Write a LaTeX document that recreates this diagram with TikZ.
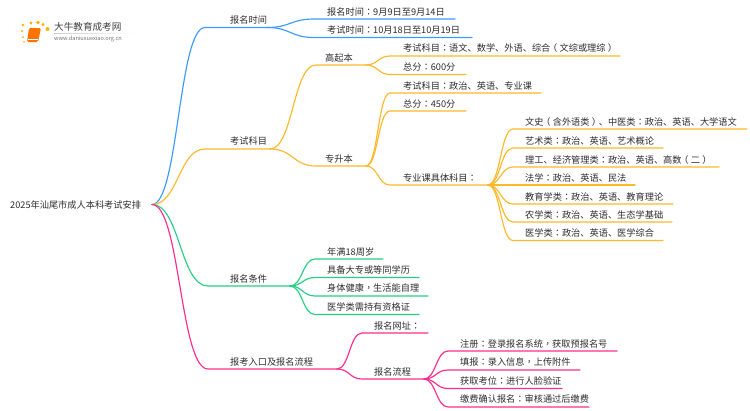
\documentclass[tikz,border=0pt]{standalone}
\usepackage{fontspec}
\setmainfont{Noto Sans CJK SC}
\newfontfamily\tcfont{Noto Sans CJK TC}
\newcommand{\cl}{{\tcfont ：}}
\newcommand{\cm}{{\tcfont ，}}
\newcommand{\lp}{\kern-.25em（\kern.25em}
\newcommand{\rp}{\kern.25em）\kern-.25em}
\usetikzlibrary{calc}
\definecolor{cblue}{HTML}{3D9BFF}
\definecolor{corange}{HTML}{FDB92A}
\definecolor{cgreen}{HTML}{27CF85}
\definecolor{cpink}{HTML}{FF2D8E}
\definecolor{ctext}{HTML}{2E2E2E}
\tikzset{
  lbl/.style={anchor=west,inner sep=0pt,text=ctext,font=\fontsize{9.2}{11}\selectfont},
  edge/.style={line width=1.15pt,line cap=round},
}
% \leaf{name}{x start}{x text}{x end}{y line}{y text}{text}
\newcommand{\leaf}[7]{%
  \coordinate (#1s) at (#2,#5);
  \coordinate (#1e) at (#4,#5);
  \node[lbl] (#1) at (#3,#6) {#7};
}
\newcommand{\conn}[3]{%
  \draw[edge,#1] let \p1=(#2),\p2=(#3s),\n1={0.5*(\x2-\x1)} in
    (#2) .. controls +(\n1,0) and +(-\n1,0) .. (#3s) -- (#3e);
}
\begin{document}
\begin{tikzpicture}[x=1pt,y=-1pt]
\useasboundingbox (0,0) rectangle (750,410);
\fill[white] (0,0) rectangle (750,410);

% logo
\foreach \a/\b/\r in {23/25/1.3,31/23/1.7,38/22.5/1.8,43/24.5/1.7,47.5/29/2,22/31/1.2,23/37/1,24/42/.8}
  \fill[orange!60!yellow] (\a,\b) circle (\r);
\fill[orange!90!red,rounded corners=1.5pt] (29,28) -- (41,28) -- (38,42) -- (27,42) -- cycle;
\draw[white,line width=.5pt] (28.4,39.5) -- (38,39.5);
\shade[left color=black!20,right color=white] (54,33) rectangle (134,33.5);
\node[anchor=west,inner sep=0pt,text=black!75,font=\fontsize{9.6}{11}\selectfont] (logot) at (54,27) {大牛教育成考网};
\node[anchor=west,inner sep=0pt,text=black!55,font=\fontsize{5.6}{7}\selectfont] (logou) at (54,39) {www.daniuxuexiao.org.cn};

% root
\node[lbl] (root) at (10,204.5) {2025年汕尾市成人本科考试安排};
\coordinate (r) at (152,204.5);

% level 1
\leaf{a}{205}{230}{267}{27.5}{20}{报名时间}
\leaf{b}{205}{230}{270}{149}{141}{考试科目}
\leaf{c}{208}{230}{290}{286}{279}{报名条件}
\leaf{d}{208}{230}{337}{369}{362}{报考入口及报名流程}
\conn{cblue}{r}{a}
\conn{corange}{r}{b}
\conn{cgreen}{r}{c}
\conn{cpink}{r}{d}

% blue
\leaf{a1}{314}{327}{455}{19}{12}{报名时间\cl 9月9日至9月14日}
\leaf{a2}{314}{327}{472}{37.5}{30}{考试时间\cl 10月18日至10月19日}
\conn{cblue}{ae}{a1}
\conn{cblue}{ae}{a2}

% orange
\leaf{b1}{316}{325}{366}{65}{58}{高起本}
\leaf{b2}{316}{325}{366}{166}{159}{专升本}
\conn{corange}{be}{b1}
\conn{corange}{be}{b2}
\leaf{e1}{390}{403}{620}{56}{48}{考试科目\cl 语文、数学、外语、综合\lp 文综或理综\rp}
\leaf{e2}{390}{403}{466}{74.5}{67}{总分\cl 600分}
\conn{corange}{b1e}{e1}
\conn{corange}{b1e}{e2}
\leaf{f1}{390}{403}{541}{93}{86}{考试科目\cl 政治、英语、专业课}
\leaf{f2}{390}{403}{466}{111}{104}{总分\cl 450分}
\leaf{f3}{390}{403}{488}{185}{178}{专业课具体科目\cl}
\conn{corange}{b2e}{f1}
\conn{corange}{b2e}{f2}
\conn{corange}{b2e}{f3}
\leaf{g1}{513}{525}{747}{129}{122}{文史\lp 含外语类\rp 、中医类\cl 政治、英语、大学语文}
\leaf{g2}{513}{525}{663}{148}{141}{艺术类\cl 政治、英语、艺术概论}
\leaf{g3}{513}{525}{719}{167}{160}{理工、经济管理类\cl 政治、英语、高数\lp 二\rp}
\leaf{g4}{513}{525}{635}{185}{178}{法学\cl 政治、英语、民法}
\leaf{g5}{513}{525}{673}{204}{197}{教育学类\cl 政治、英语、教育理论}
\leaf{g6}{513}{525}{672}{222}{215}{农学类\cl 政治、英语、生态学基础}
\leaf{g7}{513}{525}{663}{240.5}{233}{医学类\cl 政治、英语、医学综合}
\foreach \q in {g1,g2,g3,g4,g5,g6,g7}{\conn{corange}{f3e}{\q}}

% green
\leaf{h1}{315}{327}{383}{259}{252}{年满18周岁}
\leaf{h2}{315}{327}{419}{277.5}{270}{具备大专或等同学历}
\leaf{h3}{315}{327}{428}{296}{288}{身体健康\cm 生活能自理}
\leaf{h4}{315}{327}{419}{314.5}{307}{医学类需持有资格证}
\foreach \q in {h1,h2,h3,h4}{\conn{cgreen}{ce}{\q}}

% pink
\leaf{i1}{362}{374}{428}{333}{326}{报名网址\cl}
\leaf{i2}{362}{374}{424}{379}{372}{报名流程}
\conn{cpink}{de}{i1}
\conn{cpink}{de}{i2}
\leaf{j1}{448}{460}{617}{351}{344}{注册\cl 登录报名系统\cm 获取预报名号}
\leaf{j2}{448}{460}{580}{370}{362}{填报\cl 录入信息\cm 上传附件}
\leaf{j3}{448}{460}{562}{388.5}{381}{获取考位\cl 进行人脸验证}
\leaf{j4}{448}{460}{589}{407}{399}{缴费确认报名\cl 审核通过后缴费}
\foreach \q in {j1,j2,j3,j4}{\conn{cpink}{i2e}{\q}}
\end{tikzpicture}
\end{document}
